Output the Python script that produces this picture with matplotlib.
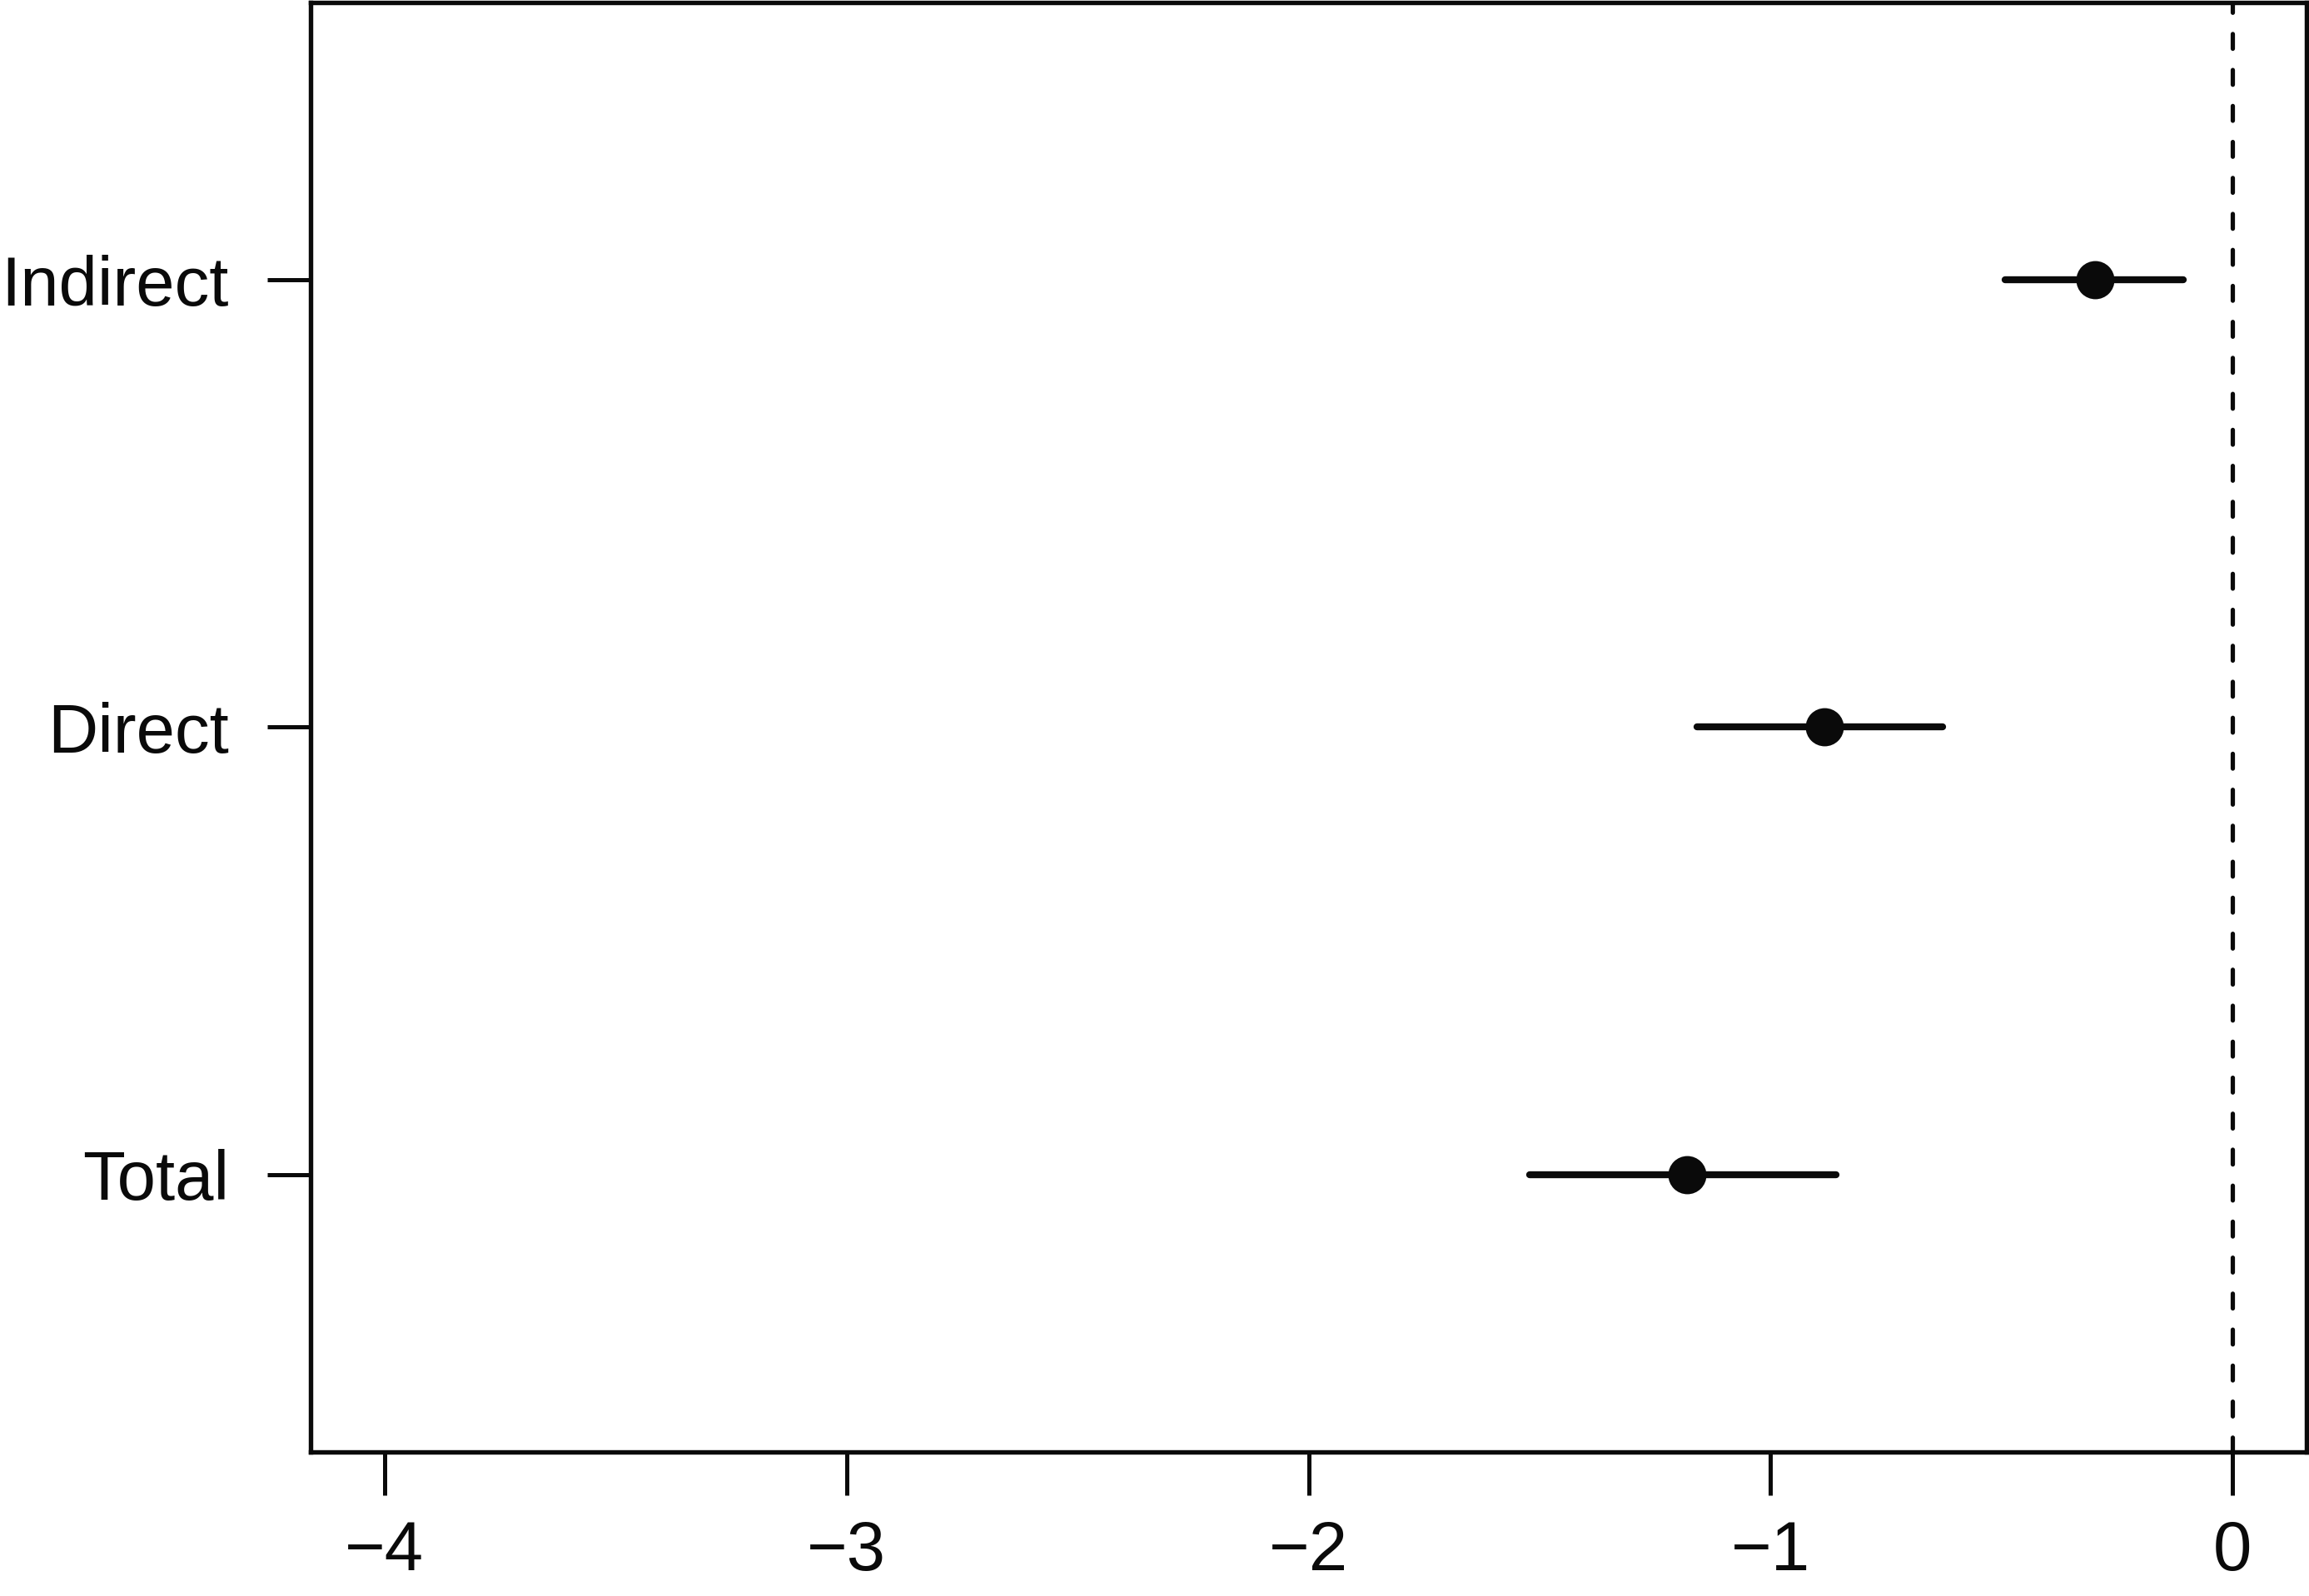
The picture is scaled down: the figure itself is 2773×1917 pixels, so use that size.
import matplotlib
matplotlib.use("Agg")
import matplotlib.pyplot as plt

# effect estimates with confidence intervals
labels = ["Total", "Direct", "Indirect"]
estimate = [-1.181, -0.884, -0.297]
ci_low = [-1.522, -1.159, -0.493]
ci_high = [-0.859, -0.628, -0.106]
x_ticks = [-4, -3, -2, -1, 0]

plt.rcParams["font.family"] = ["Liberation Sans", "DejaVu Sans"]

fig = plt.figure(figsize=(2773 / 300, 1917 / 300), dpi=300)
ax = fig.add_axes([373 / 2773, 1 - 1744 / 1917, (2770 - 373) / 2773, (1744 - 3) / 1917])

ypos = list(range(1, len(labels) + 1))

# CI bars
ax.hlines(ypos, ci_low, ci_high, color="#0a0a0a", linewidth=2.0, capstyle="round", zorder=2)
# point estimates
ax.plot(estimate, ypos, "o", color="#0a0a0a", markersize=10, zorder=3)

# reference line at zero
ax.axvline(0, color="#0a0a0a", linewidth=1.25, linestyle=(0, (3.4, 4.9)),
           dash_capstyle="round", zorder=1)

ax.set_xlim(-4.16, 0.16)
ax.set_ylim(0.38, 3.62)
ax.set_xticks(x_ticks)
ax.set_xticklabels([f"{v}".replace("-", "\u2212") for v in x_ticks])
ax.set_yticks(ypos)
ax.set_yticklabels(labels)

for s in ax.spines.values():
    s.set_linewidth(1.3)
    s.set_color("#0a0a0a")

ax.tick_params(axis="both", length=12.5, width=1.2, color="#0a0a0a",
               labelsize=20, labelcolor="#0a0a0a")
ax.tick_params(axis="x", pad=7)
ax.tick_params(axis="y", pad=11)

fig.savefig("out.png", dpi=300)
